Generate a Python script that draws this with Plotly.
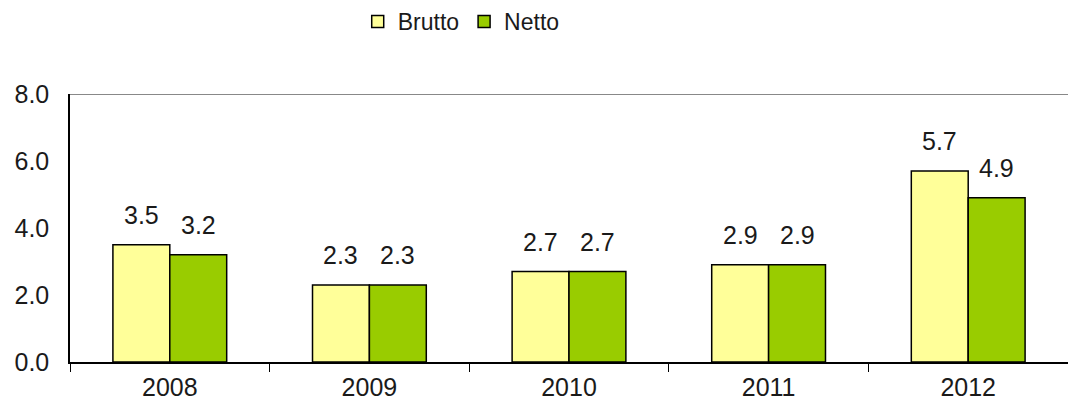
import plotly.graph_objects as go

years = ["2008", "2009", "2010", "2011", "2012"]
brutto = [3.5, 2.3, 2.7, 2.9, 5.7]
netto = [3.2, 2.3, 2.7, 2.9, 4.9]
y_ticks = [0, 2, 4, 6, 8]
y_tick_labels = ["0.0", "2.0", "4.0", "6.0", "8.0"]

FONT = "Liberation Sans, Arial, sans-serif"
TXT = "#1a1a1a"

W, H = 1068, 408
ML, MT, MB, MR = 70, 94, 46, 0
BARGAP = 0.43

fig = go.Figure()
fig.add_trace(go.Bar(
    name="Brutto", x=years, y=brutto,
    marker=dict(color="#FFFF99", line=dict(color="#000000", width=1.5)),
))
fig.add_trace(go.Bar(
    name="Netto", x=years, y=netto,
    marker=dict(color="#99CC00", line=dict(color="#000000", width=1.5)),
))

# value labels placed over each bar (offset to the bar's slot in its group)
cat_px = (W - ML - MR) / len(years)
bar_px = cat_px * (1 - BARGAP) / 2
for series, sign in ((brutto, -1), (netto, 1)):
    for i, v in enumerate(series):
        fig.add_annotation(
            x=i, y=v, xref="x", yref="y", text=f"{v:.1f}", showarrow=False,
            xshift=sign * bar_px / 2, yshift=14, yanchor="bottom",
            font=dict(size=25, family=FONT, color=TXT),
        )

plot_h = H - MT - MB
fig.update_layout(
    width=W, height=H,
    margin=dict(l=ML, r=MR, t=MT, b=MB, autoexpand=False),
    paper_bgcolor="white", plot_bgcolor="white",
    barmode="group", bargap=BARGAP, bargroupgap=0,
    font=dict(family=FONT, size=24, color=TXT),
    showlegend=True,
    legend=dict(orientation="h", x=0.392, xanchor="center",
                y=1 + MT / plot_h, yanchor="top",
                font=dict(size=23, family=FONT, color=TXT), itemwidth=30,
                tracegroupgap=0, bgcolor="rgba(0,0,0,0)"),
)
fig.update_xaxes(
    type="category",
    showline=True, linecolor="#000000", linewidth=1.5,
    ticks="outside", tickson="boundaries", ticklen=8, tickcolor="#000000",
    showgrid=False, range=[-0.5, 4.5],
    tickfont=dict(size=25, family=FONT, color=TXT), ticklabelstandoff=2,
)
fig.update_yaxes(
    range=[0, 8], tickvals=y_ticks, ticktext=y_tick_labels,
    showline=True, linecolor="#000000", linewidth=1.5,
    showgrid=False, zeroline=False, ticks="",
    tickfont=dict(size=25, family=FONT, color=TXT), ticklabelstandoff=14,
)
fig.add_shape(type="line", xref="paper", yref="y", x0=0, x1=1, y0=8, y1=8,
              line=dict(color="#888888", width=2))

fig.write_html("out.html", config={"displayModeBar": False},
               post_script="document.body.style.margin='0px';")
